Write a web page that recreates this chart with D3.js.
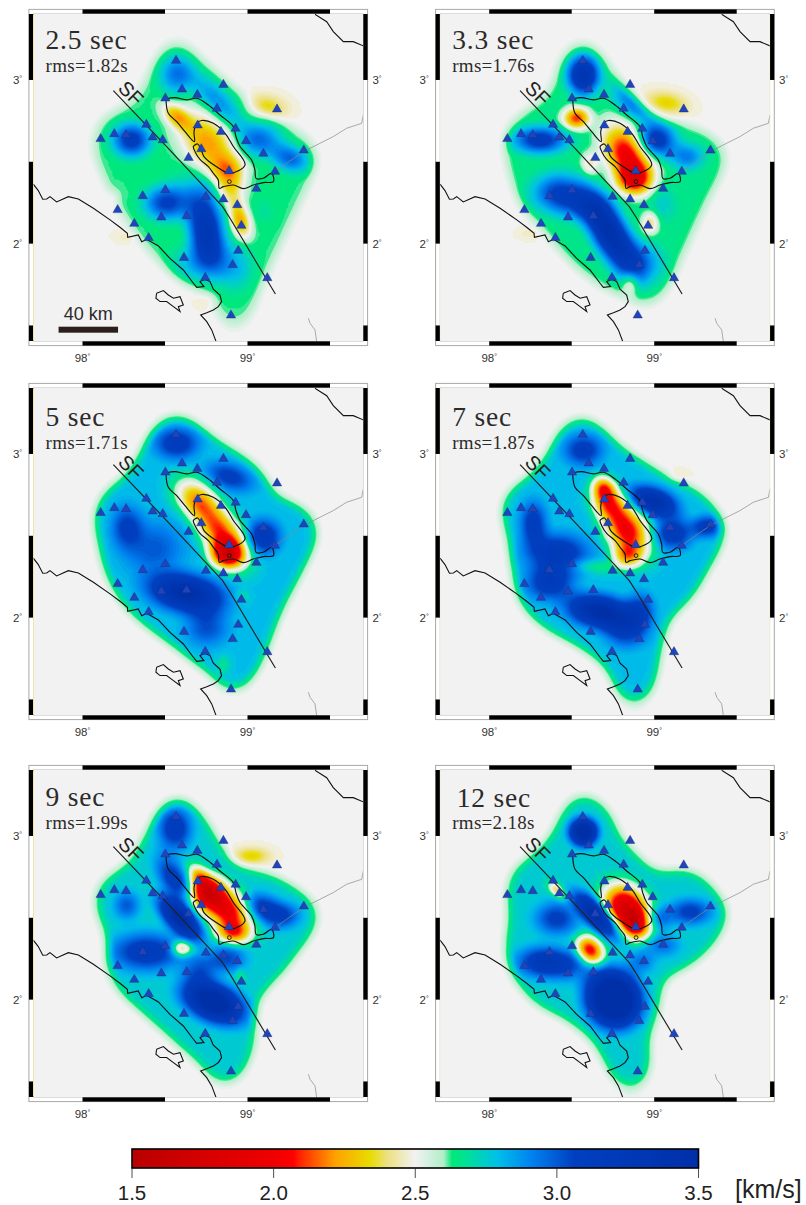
<!DOCTYPE html>
<html>
<head>
<meta charset="utf-8">
<title>Group velocity maps</title>
<script src="https://cdn.jsdelivr.net/npm/d3@7"></script>
<style>
	html, body { margin: 0; padding: 0; background: #fff; }
	svg { display: block; }
</style>
</head>
<body>
<div id="figure"></div>
<script>
// -----DATA-----
var periodLabels = ["2.5 sec", "3.3 sec", "5 sec", "7 sec", "9 sec", "12 sec"];
var rmsLabels = ["rms=1.82s", "rms=1.76s", "rms=1.71s", "rms=1.87s", "rms=1.99s", "rms=2.18s"];
var backgroundVelocity = [2.64, 2.66, 2.8, 2.8, 2.76, 2.76];

// stations [lon, lat]
var stations = [
	[98.567, 3.118], [98.854, 2.971], [98.603, 2.943], [98.696, 2.910], [98.502, 2.888], [98.815, 2.825],
	[99.179, 2.821], [98.698, 2.723], [98.387, 2.727], [98.928, 2.703], [98.839, 2.684], [98.193, 2.670],
	[98.264, 2.664], [98.110, 2.640], [98.425, 2.650], [98.486, 2.633], [98.991, 2.627], [98.720, 2.578],
	[99.096, 2.550], [99.341, 2.570], [98.643, 2.525], [98.888, 2.444], [99.167, 2.440], [99.054, 2.336],
	[98.502, 2.328], [98.365, 2.291], [98.748, 2.287], [98.854, 2.271], [98.938, 2.236], [98.213, 2.206],
	[98.478, 2.161], [98.631, 2.169], [98.314, 2.122], [98.963, 2.110], [98.401, 2.035], [98.944, 1.957],
	[98.615, 1.914], [98.910, 1.870], [98.744, 1.792], [99.120, 1.790], [98.900, 1.562]
];

var faultLine = [[98.187, 2.935], [98.510, 2.593], [98.793, 2.287], [98.849, 2.226], [98.894, 2.155], [99.169, 1.692]];

var coastWest = [
	[97.702, 2.363], [97.732, 2.324], [97.759, 2.271], [97.783, 2.273], [97.803, 2.287], [97.843, 2.255],
	[97.914, 2.287], [97.975, 2.273], [98.066, 2.216], [98.167, 2.145], [98.227, 2.100], [98.272, 2.063],
	[98.274, 2.039], [98.338, 2.053], [98.359, 2.012], [98.389, 2.026], [98.460, 1.986], [98.530, 1.910],
	[98.611, 1.839], [98.672, 1.758], [98.692, 1.733], [98.736, 1.737], [98.712, 1.768], [98.742, 1.782],
	[98.773, 1.768], [98.793, 1.721], [98.833, 1.686], [98.843, 1.646], [98.823, 1.615], [98.793, 1.595],
	[98.753, 1.578], [98.716, 1.564], [98.753, 1.523], [98.783, 1.473], [98.809, 1.403]
];
var islandWest = [
	[98.449, 1.697], [98.490, 1.713], [98.520, 1.686], [98.551, 1.666], [98.591, 1.676], [98.611, 1.625],
	[98.581, 1.615], [98.591, 1.585], [98.551, 1.615], [98.510, 1.646], [98.470, 1.646], [98.445, 1.666], [98.449, 1.697]
];
var coastEast = [[99.409, 3.401], [99.480, 3.356], [99.520, 3.295], [99.581, 3.234], [99.641, 3.234], [99.702, 3.208]];
var riverEast = [
	[99.702, 2.786], [99.692, 2.735], [99.601, 2.705], [99.520, 2.654], [99.439, 2.613], [99.338, 2.562], [99.237, 2.491], [99.167, 2.440]
];
var riverSouth = [[99.369, 1.544], [99.379, 1.513], [99.409, 1.473], [99.419, 1.403]];

var caldera = [
	[98.506, 2.884], [98.561, 2.892], [98.631, 2.878], [98.692, 2.888], [98.763, 2.847], [98.833, 2.786],
	[98.914, 2.715], [98.930, 2.654], [98.955, 2.593], [99.025, 2.511], [99.045, 2.450], [99.052, 2.399],
	[99.096, 2.399], [99.146, 2.430], [99.157, 2.379], [99.096, 2.373], [99.035, 2.358], [98.975, 2.336],
	[98.914, 2.358], [98.854, 2.348], [98.829, 2.338], [98.823, 2.389], [98.793, 2.430], [98.763, 2.470],
	[98.712, 2.515], [98.682, 2.562], [98.672, 2.593], [98.698, 2.609], [98.718, 2.578], [98.736, 2.532],
	[98.813, 2.470], [98.894, 2.430], [98.985, 2.481], [98.914, 2.593], [98.864, 2.674], [98.793, 2.735],
	[98.722, 2.752], [98.692, 2.735], [98.676, 2.684], [98.678, 2.623], [98.621, 2.684], [98.571, 2.745],
	[98.520, 2.796], [98.506, 2.884]
];
var calderaVent = [98.890, 2.379];

// resolved area of each map [lon, lat]
var coverage25 = [
	[98.571, 3.26], [98.692, 3.112], [98.833, 2.990], [98.995, 2.847], [99.197, 2.705], [99.359, 2.633], [99.409, 2.521],
	[99.318, 2.328], [99.177, 2.022], [99.056, 1.758], [99.005, 1.605], [98.91, 1.44], [98.843, 1.595], [98.813, 1.717],
	[98.753, 1.737], [98.631, 1.768], [98.510, 1.880], [98.369, 2.043], [98.258, 2.206], [98.157, 2.409], [98.086, 2.593],
	[98.106, 2.715], [98.207, 2.796], [98.328, 2.817], [98.409, 2.980], [98.490, 3.163]
];
var coverage33 = [
	[98.561, 3.25], [98.672, 3.122], [98.753, 2.990], [98.894, 2.817], [99.035, 2.725], [99.237, 2.684], [99.409, 2.593],
	[99.409, 2.491], [99.318, 2.328], [99.177, 2.022], [99.056, 1.737], [98.955, 1.605], [98.874, 1.697], [98.712, 1.747],
	[98.510, 1.910], [98.349, 2.104], [98.207, 2.246], [98.146, 2.470], [98.116, 2.633], [98.146, 2.725], [98.308, 2.827],
	[98.409, 2.898], [98.449, 3.102]
];
var coverage5 = [
	[98.571, 3.23], [98.712, 3.126], [98.813, 3.035], [98.955, 2.963], [99.096, 2.841], [99.116, 2.709], [99.318, 2.658],
	[99.409, 2.536], [99.318, 2.332], [99.177, 2.067], [99.056, 1.741], [98.965, 1.585], [98.874, 1.554], [98.813, 1.697],
	[98.732, 1.721], [98.591, 1.843], [98.389, 1.986], [98.247, 2.128], [98.167, 2.291], [98.126, 2.495], [98.096, 2.637],
	[98.167, 2.760], [98.308, 2.841], [98.399, 3.024], [98.470, 3.167]
];
var coverage7 = [
	[98.561, 3.22], [98.692, 3.106], [98.793, 2.994], [98.955, 2.902], [99.076, 2.811], [99.237, 2.760], [99.379, 2.617],
	[99.409, 2.515], [99.318, 2.352], [99.197, 2.128], [99.056, 2.026], [98.995, 1.782], [98.975, 1.599], [98.874, 1.44],
	[98.773, 1.640], [98.753, 1.721], [98.551, 1.864], [98.349, 1.965], [98.207, 2.108], [98.177, 2.291], [98.146, 2.536],
	[98.096, 2.658], [98.146, 2.760], [98.288, 2.841], [98.389, 2.984], [98.449, 3.126]
];
var coverage9 = [
	[98.571, 3.24], [98.712, 3.096], [98.793, 2.943], [98.914, 2.760], [99.096, 2.749], [99.237, 2.678], [99.409, 2.556],
	[99.389, 2.454], [99.278, 2.312], [99.177, 2.169], [99.076, 2.088], [99.015, 1.986], [99.005, 1.721], [98.955, 1.568],
	[98.854, 1.47], [98.753, 1.619], [98.591, 1.762], [98.389, 1.945], [98.247, 2.067], [98.167, 2.210], [98.207, 2.352],
	[98.146, 2.475], [98.096, 2.617], [98.146, 2.719], [98.308, 2.790], [98.389, 2.943], [98.490, 3.147]
];
var coverage12 = [
	[98.551, 3.26], [98.712, 3.126], [98.753, 2.963], [98.874, 2.861], [98.995, 2.719], [99.136, 2.760], [99.237, 2.760],
	[99.409, 2.576], [99.429, 2.515], [99.318, 2.332], [99.136, 2.189], [99.015, 2.185], [98.995, 1.925], [98.914, 1.762],
	[98.955, 1.599], [98.874, 1.43], [98.773, 1.538], [98.672, 1.762], [98.470, 1.925], [98.308, 1.986], [98.157, 2.169],
	[98.126, 2.332], [98.167, 2.495], [98.136, 2.658], [98.167, 2.780], [98.328, 2.882], [98.409, 2.984], [98.490, 3.167]
];

// velocity anomalies: [lon, lat, long axis, short axis (deg), tilt (deg), km/s]
var anomalies25 = [
	[98.567, 3.03, .08, .07, 90, .3], [98.814, 2.878, .17, .055, 45, .24], [99.076, 2.633, .09, .07, 0, .32],
	[99.258, 2.521, .08, .055, 20, .35], [98.298, 2.633, .08, .07, 0, .5], [98.753, 2.063, .14, .07, 80, .65],
	[98.5, 2.246, .09, .07, 0, .4], [98.692, 2.287, .13, .1, 0, .2], [98.692, 1.88, .1, .08, 0, .2], [98.914, 1.86, .1, .08, 90, .2],
	[99.1, 2.2, .06, .05, 70, .05],
	[98.874, 2.45, .07, .06, 0, -.3], [98.76, 2.613, .15, .09, 50, -.42], [98.571, 2.776, .07, .04, 40, -.34],
	[98.894, 2.328, .07, .06, 90, -.3], [98.955, 2.145, .08, .04, 75, -.4], [99.106, 2.833, .085, .05, 5, -.17],
	[98.197, 2.287, .04, .03, 90, -.05], [98.268, 2.043, .04, .02, 0, -.04], [98.763, 1.656, .04, .03, 0, -.05]
];
var anomalies33 = [
	[98.571, 3.03, .08, .065, 90, .7], [98.874, 2.857, .11, .055, 40, .28], [99.015, 2.633, .08, .07, 0, .5],
	[99.197, 2.532, .07, .055, 0, .28], [98.308, 2.633, .11, .055, 0, .5], [98.43, 2.308, .11, .08, 0, .45],
	[98.732, 2.063, .17, .07, 60, .8], [98.591, 2.226, .1, .07, 0, .3], [98.914, 1.88, .09, .09, 0, .3], [99.05, 2.25, .08, .06, 70, .1],
	[98.84, 2.532, .14, .085, 60, -.68], [98.874, 2.389, .07, .06, 0, -.48], [98.53, 2.766, .055, .045, 0, -.55],
	[99.076, 2.861, .085, .045, 10, -.17], [98.975, 2.124, .05, .035, 90, -.25], [98.854, 1.758, .05, .035, 90, -.22],
	[98.611, 2.491, .05, .035, 90, -.2], [98.247, 2.063, .04, .02, 0, -.04]
];
var anomalies5 = [
	[98.571, 3.065, .09, .065, 0, .38], [98.894, 2.861, .1, .055, 20, .32], [99.096, 2.495, .07, .07, 0, .42],
	[98.268, 2.556, .09, .065, 90, .28], [98.631, 2.149, .15, .075, 10, .7], [98.43, 2.42, .13, .12, 0, .22],
	[98.753, 1.945, .09, .08, 0, .25],
	[98.854, 2.495, .14, .08, 55, -.72], [98.692, 2.719, .11, .075, 45, -.55], [98.874, 2.383, .07, .06, 0, -.65],
	[98.854, 1.711, .04, .03, 90, -.12], [98.965, 2.128, .03, .03, 0, -.1]
];
var anomalies7 = [
	[98.571, 3.024, .08, .065, 0, .35], [98.995, 2.709, .1, .055, 20, .65], [99.116, 2.515, .08, .065, 0, .38],
	[99.318, 2.556, .06, .045, 0, .35], [98.268, 2.576, .09, .055, 90, .35], [98.409, 2.393, .13, .08, 0, .42],
	[98.369, 2.21, .1, .07, 0, .38], [98.672, 2.037, .13, .065, 10, .72], [98.914, 2.047, .07, .06, 90, .3],
	[98.833, 1.925, .09, .07, 0, .35],
	[98.833, 2.536, .13, .085, 60, -.8], [98.712, 2.719, .08, .065, 60, -.55], [98.833, 2.373, .06, .05, 0, -.4],
	[98.692, 2.8, .05, .045, 60, -.4], [99.136, 2.861, .04, .025, 0, -.05], [98.651, 2.312, .12, .03, 5, -.15]
];
var anomalies9 = [
	[98.561, 3.045, .09, .07, 90, .42], [98.55, 2.739, .11, .055, 60, .38], [98.591, 2.495, .11, .05, 45, .8],
	[98.793, 1.986, .13, .075, 25, .9], [98.268, 2.576, .06, .055, 90, .25], [98.389, 2.291, .15, .08, 0, .42],
	[99.197, 2.515, .08, .055, 0, .38], [99.076, 2.576, .07, .055, 0, .3], [98.874, 2.25, .08, .06, 0, .3], [98.71, 2.185, .07, .06, 0, .25],
	[98.874, 2.546, .12, .08, 50, -.8], [98.752, 2.658, .07, .07, 0, -.78], [98.914, 2.403, .07, .045, 0, -.4],
	[98.702, 2.76, .055, .04, 50, -.4], [98.601, 2.312, .045, .035, 0, -.45], [99.025, 2.878, .075, .035, 0, -.17],
	[98.955, 2.149, .03, .02, 90, -.12]
];
var anomalies12 = [
	[98.571, 3.024, .055, .055, 0, .95], [98.652, 2.515, .12, .045, 45, .8], [98.409, 2.495, .09, .07, 0, .35],
	[98.328, 2.23, .11, .065, 0, .45], [98.753, 2.006, .11, .1, 60, 1.3], [99.218, 2.536, .09, .055, 0, .35],
	[99.015, 2.495, .06, .05, 0, .25], [99.056, 2.332, .07, .05, 0, .2], [98.5, 2.2, .1, .07, 0, .2], [98.92, 2.23, .06, .05, 0, .2],
	[98.833, 2.556, .11, .085, 50, -.98], [98.894, 2.454, .06, .06, 0, -.5], [98.611, 2.301, .065, .05, 50, -.75],
	[98.409, 2.668, .045, .025, 45, -.38]
];

var coverages = [coverage25, coverage33, coverage5, coverage7, coverage9, coverage12];
var anomalies = [anomalies25, anomalies33, anomalies5, anomalies7, anomalies9, anomalies12];

// colour bar
var barTicks = [1.5, 2.0, 2.5, 3.0, 3.5];
var colorStops = [1.5, 1.7, 2.0, 2.07, 2.09, 2.215, 2.34, 2.4, 2.5, 2.6, 2.63, 2.67, 2.79, 2.915, 3.06, 3.5];
var colorValues = ["#b80000", "#d00000", "#ef0000", "#ff0000", "#ff2000", "#ffa000", "#e8dc00", "#ece080", "#f2f2f2",
	"#b0eec8", "#00e878", "#00e490", "#00c0e8", "#0080f0", "#0040c0", "#0030a8"];

// -----MISE EN PAGE-----
var width = 806, height = 1205;
var mapW = 329.5, mapH = 327, band = 4.6;
var panelLeft = [33.5, 440.2];
var panelTop = [14, 388, 770];
var titleDy = [35, 35, 38, 38, 36, 37];
var rmsDy = [58, 58, 61, 61, 59, 59];
var gridN = 165;

var color = d3.scaleLinear().domain(colorStops).range(colorValues).clamp(true);
var x = d3.scaleLinear().domain([97.703, 99.7]).range([0, mapW]);
var y = d3.scaleLinear().domain([3.403, 1.405]).range([0, mapH]);

var svg = d3.select("#figure").append("svg")
	.attr("width", width)
	.attr("height", height)
	.attr("font-family", "'Liberation Sans', Arial, sans-serif");
var defs = svg.append("defs");

defs.append("clipPath").attr("id", "mapClip")
	.append("rect").attr("width", mapW).attr("height", mapH);

function smoothstep(a, b, v) {
	var t = Math.max(0, Math.min(1, (v - a) / (b - a)));
	return t * t * (3 - 2 * t);
}

// gaussian with its tail cut, so the grey around the maps stays flat
function blob(b, lon, lat) {
	var a = b[4] * Math.PI / 180;
	var dx = lon - b[0], dy = b[1] - lat;
	var u = dx * Math.cos(a) + dy * Math.sin(a);
	var v = -dx * Math.sin(a) + dy * Math.cos(a);
	var e = Math.exp(-0.5 * (u * u / (b[2] * b[2]) + v * v / (b[3] * b[3])));
	return b[5] * Math.max(0, (e - 0.04) / 0.96);
}

// velocity grid of one map. Fast anomalies stay in the resolved area, slow ones do not
function velocityGrid(index) {
	var values = new Array(gridN * gridN);
	var mask = new Float32Array(gridN * gridN);
	var cell = mapW / gridN, cellY = mapH / gridN;
	var i, j;
	for (j = 0; j < gridN; j++) {
		for (i = 0; i < gridN; i++) {
			mask[j * gridN + i] = d3.polygonContains(coverages[index], [x.invert((i + 0.5) * cell), y.invert((j + 0.5) * cellY)]) ? 1 : 0;
		}
	}
	// bord adouci et coins arrondis
	d3.blur2({data: mask, width: gridN}, 6);
	for (j = 0; j < gridN; j++) {
		for (i = 0; i < gridN; i++) {
			var lon = x.invert((i + 0.5) * cell), lat = y.invert((j + 0.5) * cellY);
			var m = smoothstep(0.08, 0.6, mask[j * gridN + i]);
			var fast = backgroundVelocity[index] - 2.5, slow = 0;
			anomalies[index].forEach(function (b) {
				if (b[5] > 0) fast += blob(b, lon, lat);
				else slow += blob(b, lon, lat);
			});
			values[j * gridN + i] = 2.5 + m * fast + slow;
		}
	}
	return values;
}

var levels = d3.range(1.5, 3.51, 0.02);
var contours = d3.contours().size([gridN, gridN]).thresholds(levels).smooth(true);
var contourPath = d3.geoPath(d3.geoTransform({
	point: function (px, py) {
		this.stream.point(px * mapW / gridN, py * mapH / gridN);
	}
}));

var lineGeo = d3.line().x(function (d) { return x(d[0]); }).y(function (d) { return y(d[1]); });
var lineSmooth = d3.line().x(function (d) { return x(d[0]); }).y(function (d) { return y(d[1]); }).curve(d3.curveCatmullRom.alpha(0.5));

function drawFrame(g) {
	g.append("rect").attr("x", -band).attr("y", -band)
		.attr("width", mapW + 2 * band).attr("height", mapH + 2 * band)
		.attr("fill", "#fff").attr("stroke", "#a8a8a8").attr("stroke-width", 1);

	// bandes noires tous les 0.5 degrés
	var lonBars = [[98, 98.5], [99, 99.5]];
	var latBars = [[3, 3.403], [2, 2.5], [1.405, 1.5]];
	[-band, mapH].forEach(function (top) {
		g.selectAll(null).data(lonBars).enter().append("rect")
			.attr("x", function (d) { return x(d[0]); })
			.attr("width", function (d) { return x(d[1]) - x(d[0]); })
			.attr("y", top).attr("height", band).attr("fill", "#000");
	});
	[-band, mapW].forEach(function (left) {
		g.selectAll(null).data(latBars).enter().append("rect")
			.attr("y", function (d) { return y(d[1]); })
			.attr("height", function (d) { return y(d[0]) - y(d[1]); })
			.attr("x", left).attr("width", band).attr("fill", "#000");
	});
	g.append("rect").attr("width", mapW).attr("height", mapH)
		.attr("fill", "none").attr("stroke", "#a8a8a8").attr("stroke-width", 0.8);

	// labels
	[[98, "98"], [99, "99"]].forEach(function (d) {
		var t = g.append("text").attr("x", x(d[0])).attr("y", mapH + 21)
			.attr("text-anchor", "middle").attr("font-size", 11.5).attr("fill", "#333").text(d[1]);
		t.append("tspan").attr("font-size", 7).attr("dy", -3).text("°");
	});
	[[3, "3"], [2, "2"]].forEach(function (d) {
		[-16, mapW + 14].forEach(function (px) {
			var t = g.append("text").attr("x", px).attr("y", y(d[0]) + 4)
				.attr("text-anchor", "middle").attr("font-size", 11.5).attr("fill", "#333").text(d[1]);
			t.append("tspan").attr("font-size", 7).attr("dy", -3).text("°");
		});
	});
}

function drawPanel(index) {
	var g = svg.append("g").attr("class", "panel")
		.attr("transform", "translate(" + panelLeft[index % 2] + "," + panelTop[Math.floor(index / 2)] + ")");

	drawFrame(g);

	var map = g.append("g").attr("clip-path", "url(#mapClip)");
	var field = map.append("g").attr("class", "field");
	field.selectAll("path")
		.data(contours(velocityGrid(index)))
		.enter().append("path")
		.attr("d", contourPath)
		.attr("fill", function (d) { return color(d.value); });

	map.append("path").attr("d", lineGeo(riverEast)).attr("fill", "none").attr("stroke", "#8a8a8a").attr("stroke-width", 0.7);
	map.append("path").attr("d", lineGeo(riverSouth)).attr("fill", "none").attr("stroke", "#8a8a8a").attr("stroke-width", 0.7);
	[coastWest, islandWest, coastEast].forEach(function (c) {
		map.append("path").attr("d", lineGeo(c)).attr("fill", "none").attr("stroke", "#111").attr("stroke-width", 1.1);
	});
	map.append("path").attr("d", lineSmooth(caldera)).attr("fill", "none").attr("stroke", "#111").attr("stroke-width", 1.15);
	map.append("circle").attr("cx", x(calderaVent[0])).attr("cy", y(calderaVent[1])).attr("r", 1.9)
		.attr("fill", "none").attr("stroke", "#111").attr("stroke-width", 0.9);
	map.append("path").attr("d", lineGeo(faultLine)).attr("fill", "none").attr("stroke", "#222").attr("stroke-width", 1.2);

	map.selectAll("path.station")
		.data(stations)
		.enter().append("path")
		.attr("class", "station")
		.attr("d", d3.symbol().type(d3.symbolTriangle).size(38))
		.attr("transform", function (d) { return "translate(" + x(d[0]) + "," + y(d[1]) + ")"; })
		.attr("fill", "#1f44bd").attr("stroke", "#1b2a70").attr("stroke-width", 0.4);

	g.append("text")
		.attr("transform", "translate(" + x(98.294) + "," + y(2.919) + ") rotate(45)")
		.attr("text-anchor", "middle").attr("dy", "0.35em")
		.attr("font-size", 20).attr("fill", "#222").text("SF");

	var tx = index == 5 ? 16.5 : 12;
	g.append("text").attr("x", tx).attr("y", titleDy[index])
		.attr("font-family", "'Liberation Serif', 'Times New Roman', serif")
		.attr("font-size", 27.5).attr("fill", "#2d2a2a").attr("letter-spacing", 0.8)
		.text(periodLabels[index]);
	g.append("text").attr("x", 12).attr("y", rmsDy[index])
		.attr("font-family", "'Liberation Serif', 'Times New Roman', serif")
		.attr("font-size", 19).attr("fill", "#2d2a2a").attr("letter-spacing", 0.3)
		.text(rmsLabels[index]);

	return g;
}

// -----DESSIN-----
var panels = periodLabels.map(function (d, i) { return drawPanel(i); });

// échelle 40 km, premier panneau seulement
var kmPerDegree = 111;
var scaleStart = 97.855;
panels[0].append("rect")
	.attr("x", x(scaleStart)).attr("y", 312.7)
	.attr("width", x(scaleStart + 40 / kmPerDegree) - x(scaleStart)).attr("height", 6)
	.attr("fill", "#2d1e1e");
panels[0].append("text")
	.attr("x", x(scaleStart + 20 / kmPerDegree)).attr("y", 306)
	.attr("text-anchor", "middle").attr("font-size", 18).attr("fill", "#2d2a2a")
	.text("40 km");

// barre de couleurs
var barX = d3.scaleLinear().domain([1.5, 3.5]).range([132, 698.5]);
var barTop = 1149, barH = 19;
var gradient = defs.append("linearGradient").attr("id", "velocityBar");
gradient.selectAll("stop")
	.data(colorStops)
	.enter().append("stop")
	.attr("offset", function (d) { return (d - 1.5) / 2; })
	.attr("stop-color", function (d) { return color(d); });

svg.append("rect")
	.attr("x", barX(1.5)).attr("y", barTop)
	.attr("width", barX(3.5) - barX(1.5)).attr("height", barH)
	.attr("fill", "url(#velocityBar)").attr("stroke", "#000").attr("stroke-width", 1.6);

var axis = svg.append("g");
axis.selectAll("line")
	.data(barTicks)
	.enter().append("line")
	.attr("x1", barX).attr("x2", barX)
	.attr("y1", barTop + barH).attr("y2", barTop + barH + 10)
	.attr("stroke", "#222").attr("stroke-width", 0.8);
axis.selectAll("text")
	.data(barTicks)
	.enter().append("text")
	.attr("x", barX)
	.attr("y", 1200)
	.attr("text-anchor", "middle")
	.attr("font-size", 20.5).attr("fill", "#222")
	.text(d3.format(".1f"));
svg.append("text")
	.attr("x", 735).attr("y", 1198)
	.attr("font-size", 25).attr("fill", "#222")
	.text("[km/s]");
</script>
</body>
</html>
